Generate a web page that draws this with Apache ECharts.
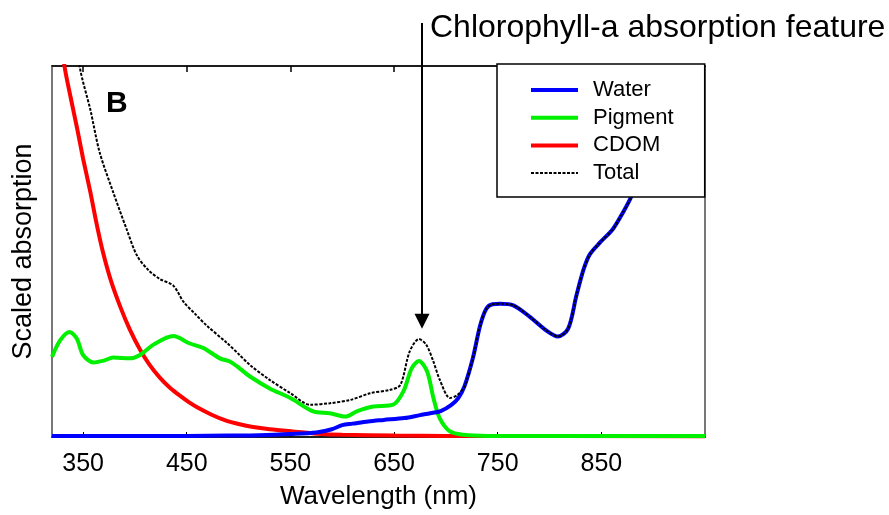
<!DOCTYPE html>
<html>
<head>
<meta charset="utf-8">
<script src="https://cdn.jsdelivr.net/npm/echarts@6/dist/echarts.min.js"></script>
<style>
html,body{margin:0;padding:0;background:#fff;}
#chart{width:889px;height:515px;}
</style>
</head>
<body>
<div id="chart"></div>
<script>
const FONT = 'Liberation Sans, Arial, sans-serif';

// wavelength tick labels (nm)
const xTicks = [350, 450, 550, 650, 750, 850];

// [wavelength nm, scaled absorption]
const water = [[320,0.3],[400,0.3],[450,0.3],[490,0.4],[520,0.5],[550,0.8],[575,1.2],[590,2.1],[600,3.2],[610,3.6],[625,4.2],[640,4.6],[660,5.1],[675,5.9],[685,6.4],[695,7.0],[705,8.6],[712,10.5],[718,13.7],[726,21.2],[733,30.0],[739,34.6],[745,35.8],[752,35.9],[765,35.5],[781,32.4],[797,28.7],[808,27.1],[818,29.2],[826,38.2],[833,45.3],[839,49.3],[849,52.5],[861,56.0],[871,60.6],[879,64.9],[890,73.5],[900,82.8],[910,92.2],[920,101.6],[935,120],[950,140]];

const pigment = [[320,21.6],[328,26.1],[337,28.3],[344,26.5],[350,22.1],[360,20.1],[370,20.6],[379,21.4],[395,21.2],[405,22.1],[418,24.9],[437,27.2],[453,25.2],[466,24.0],[482,21.2],[492,20.3],[501,18.5],[511,16.3],[530,13.1],[550,10.5],[572,6.9],[588,6.4],[603,5.5],[614,6.9],[630,8.2],[649,8.7],[659,12.3],[667,18.5],[674,20.5],[682,17.6],[688,10.5],[694,5.1],[704,1.5],[717,0.6],[740,0.3],[950,0.3]];

const cdom = [[320,128],[326,113],[332,100],[338,91.5],[344,83.5],[350,75],[357,66],[363,57.5],[369,50],[377,42],[386,35],[395,29],[405,23.5],[414,19.5],[424,16],[434,13.2],[444,11],[452,9.4],[460,8],[474,6.0],[488,4.4],[500,3.5],[514,2.7],[530,2.1],[552,1.5],[576,0.9],[600,0.6],[650,0.4],[700,0.3],[950,0.2]];

const total = [[320,157],[330,132],[340,115],[347,99.4],[357,88.2],[366,76.7],[379,66],[392,56],[402,48.9],[413,45],[424,42.6],[437,40.8],[447,36.4],[458,33.2],[469,30.1],[489,25.3],[501,22.1],[511,19.4],[530,15.4],[550,11.8],[569,8.7],[588,9.1],[608,10.0],[627,11.8],[646,12.7],[656,14.0],[665,23.0],[674,26.4],[681,24.9],[688,20.3],[694,15.5],[704,10.5],[711,11.3],[718,13.7],[726,21.2],[733,30.0],[739,34.6],[745,35.8],[752,35.9],[765,35.5],[781,32.4],[797,28.7],[808,27.1],[818,29.2],[826,38.2],[833,45.3],[839,49.3],[849,52.5],[861,56.0],[871,60.6],[879,64.9],[890,73.5],[900,82.8],[910,92.2],[920,101.6],[935,120],[950,140]];

// chlorophyll-a feature the arrow points at: [nm, value]
const chlFeature = [677, 29.2];

const chart = echarts.init(document.getElementById('chart'), null, {renderer: 'canvas'});

function lineSeries(name, data, color, width, type, z) {
  return {
    name, type: 'line', data, smooth: 0.3, symbol: 'none', showSymbol: false,
    xAxisIndex: 0, yAxisIndex: 0, z,
    lineStyle: {color, width, type},
    itemStyle: {color},
    clip: true, animation: false
  };
}

chart.setOption({
  animation: false,
  backgroundColor: '#fff',
  grid: {left: 52, right: 184, top: 66, bottom: 76, show: true, borderColor: '#777', borderWidth: 2, backgroundColor: 'transparent'},
  title: {
    text: 'B', left: 101, top: 84,
    textStyle: {fontFamily: FONT, fontSize: 30, fontWeight: 'bold', color: '#000'}
  },
  legend: {
    data: [
      {name: 'Water', lineStyle: {width: 4}},
      {name: 'Pigment', lineStyle: {width: 4}},
      {name: 'CDOM', lineStyle: {width: 4}},
      {name: 'Total', lineStyle: {width: 2}}
    ],
    z: 20,
    orient: 'vertical', left: 497, top: 64,
    itemWidth: 47, itemHeight: 14, itemGap: 5.7,
    padding: [15, 31, 13, 32],
    itemStyle: {opacity: 0},
    backgroundColor: '#fff', borderColor: '#000', borderWidth: 1.5, borderRadius: 0,
    selectedMode: false,
    textStyle: {fontFamily: FONT, fontSize: 22, color: '#000', padding: [0, 0, 0, 10]}
  },
  xAxis: [{
    type: 'value', min: 320, max: 950, position: 'bottom',
    name: 'Wavelength (nm)', nameLocation: 'middle', nameGap: 47,
    nameTextStyle: {fontFamily: FONT, fontSize: 26, color: '#000'},
    axisLine: {show: true, lineStyle: {color: '#000', width: 1.5}},
    axisTick: {show: true, inside: true, length: 5, customValues: xTicks, lineStyle: {color: '#000', width: 1}},
    axisLabel: {show: true, customValues: xTicks, margin: 15, fontFamily: FONT, fontSize: 25, color: '#000'},
    splitLine: {show: false}
  }, {
    type: 'value', min: 320, max: 950, position: 'top',
    axisLine: {show: true, lineStyle: {color: '#000', width: 1.5}},
    axisTick: {show: true, inside: true, length: 6, customValues: xTicks, lineStyle: {color: '#000', width: 1.5}},
    axisLabel: {show: false},
    splitLine: {show: false}
  }],
  yAxis: [{
    type: 'value', min: 0, max: 100,
    name: 'Scaled absorption', nameLocation: 'middle', nameGap: 15, nameRotate: 90,
    nameTextStyle: {fontFamily: FONT, fontSize: 27, color: '#000'},
    axisLine: {show: true, lineStyle: {color: '#777', width: 2}},
    axisTick: {show: false}, axisLabel: {show: false}, splitLine: {show: false}
  }],
  series: [
    lineSeries('CDOM', cdom, '#ff0000', 4, 'solid', 2),
    lineSeries('Pigment', pigment, '#00f000', 4, 'solid', 3),
    lineSeries('Water', water, '#0000ff', 4, 'solid', 4),
    lineSeries('Total', total, '#000000', 2, [3, 1.5], 5)
  ]
});

// annotation: text + arrow pointing to the chlorophyll-a feature
const tip = chart.convertToPixel({xAxisIndex: 0, yAxisIndex: 0}, chlFeature);
const ax = Math.round(tip[0]);
const ay = tip[1];
chart.setOption({
  graphic: [
    {type: 'line', z: 100, shape: {x1: ax, y1: 23, x2: ax, y2: ay - 14}, style: {stroke: '#000', lineWidth: 2}},
    {type: 'polygon', z: 100, shape: {points: [[ax - 7.5, ay - 15], [ax + 7.5, ay - 15], [ax, ay]]}, style: {fill: '#000'}},
    {type: 'text', z: 100, left: 430, top: 12, style: {text: 'Chlorophyll-a absorption feature', fontFamily: FONT, fontSize: 32, fill: '#000'}}
  ]
});
</script>
</body>
</html>
